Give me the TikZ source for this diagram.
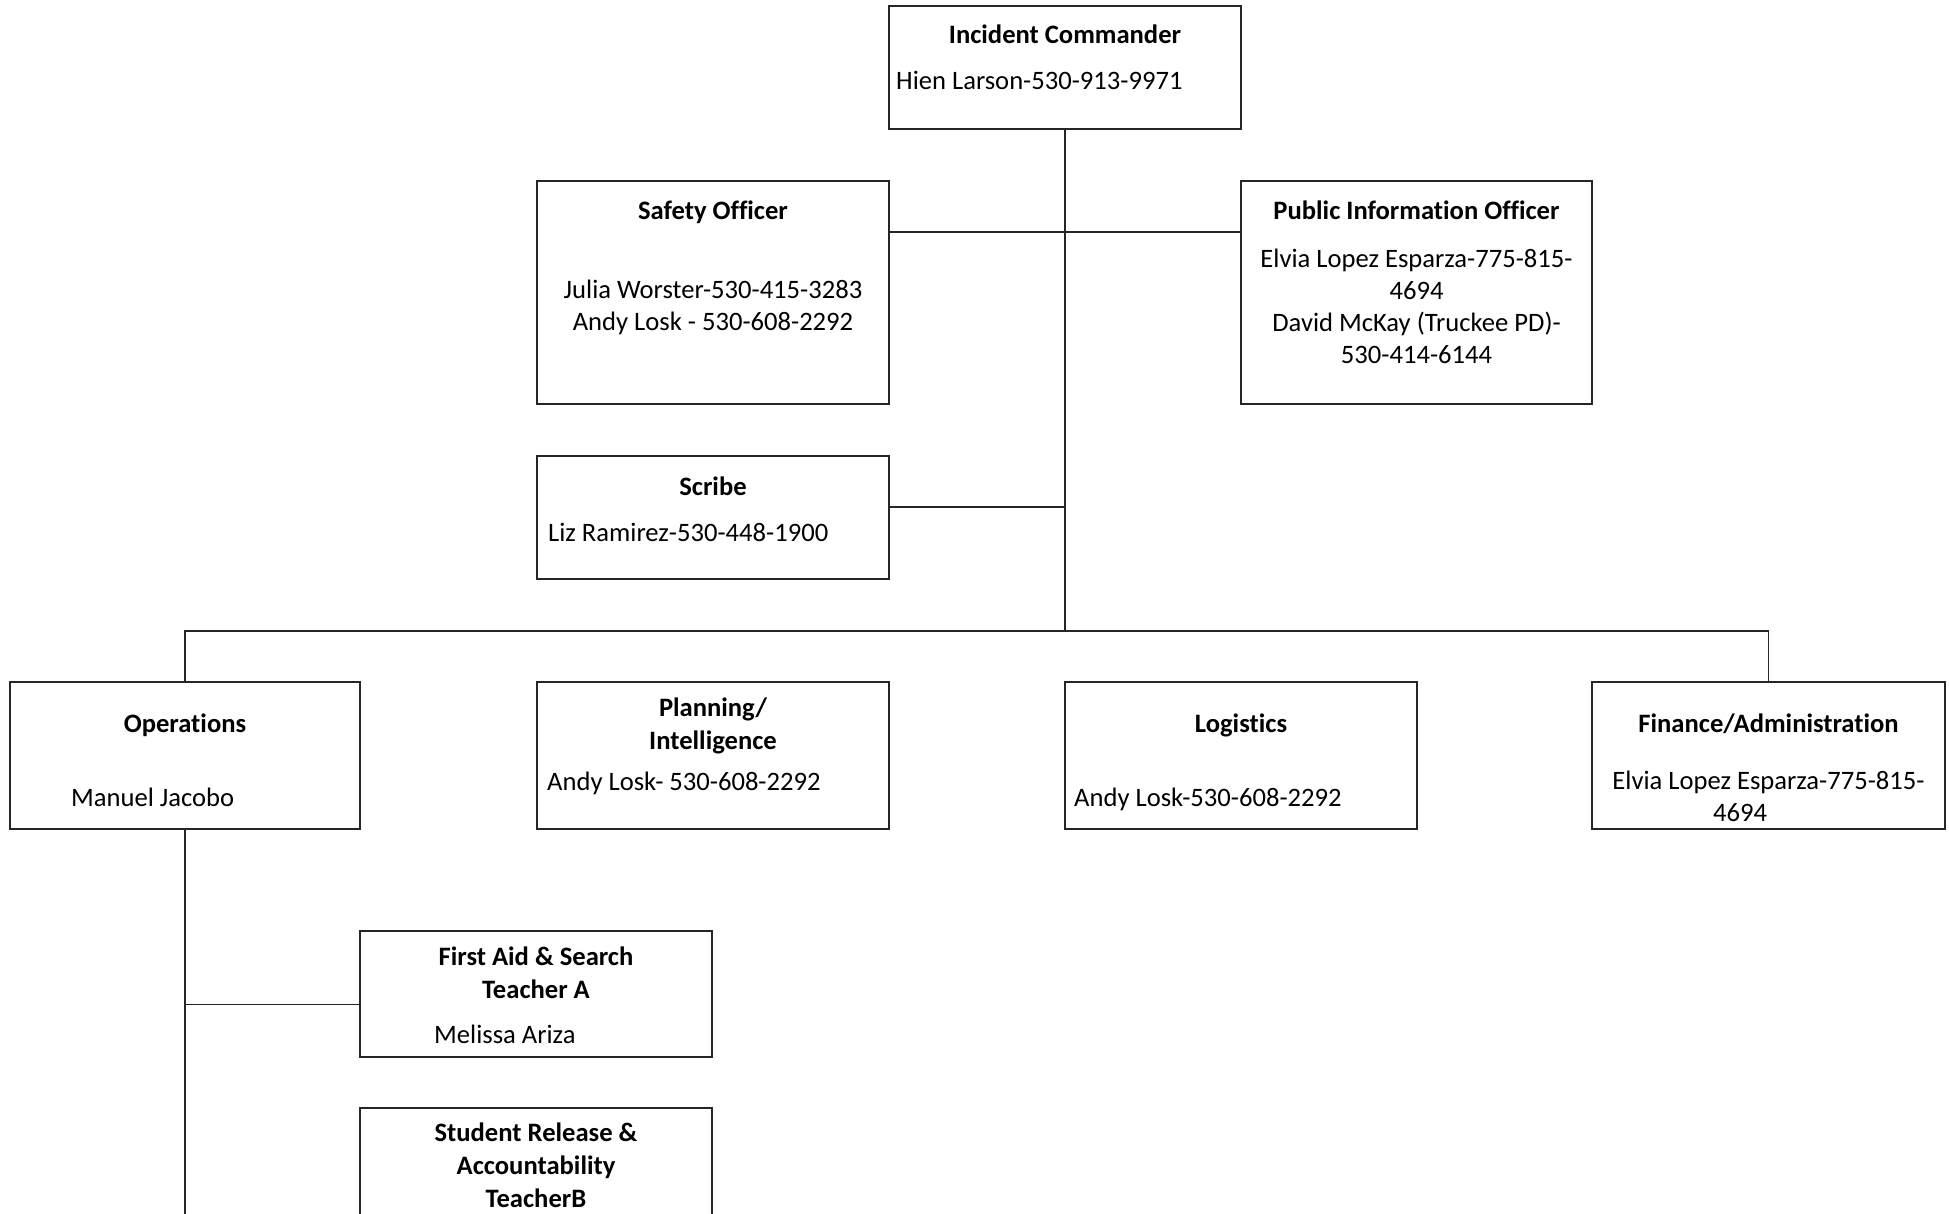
\documentclass[tikz,border=0pt]{standalone}
\usepackage{fontspec}
\setmainfont{Carlito}[Ligatures=NoCommon]
\begin{document}
\begin{tikzpicture}[x=1pt,y=-1pt,
  box/.style={draw=black!85, line width=1.6pt, fill=white, inner sep=0pt, minimum width=352pt},
  conn/.style={draw=black!85, line width=1.7pt},
  txt/.style={inner sep=0pt, anchor=base, font=\fontsize{26.6}{32}\selectfont},
  txtl/.style={txt, anchor=base west},
  ttl/.style={txt, font=\fontsize{26.6}{32}\selectfont\bfseries}]
\clip (0,0) rectangle (1949,1214);
\fill[white] (0,0) rectangle (1949,1214);
% coordinates for connector junctions
\coordinate (sj) at (1065,232);
\coordinate (scj) at (1065,507);
\coordinate (bus) at (1065,631);
\coordinate (aidj) at (185,1004.5);
\coordinate (relj) at (185,1214);
% boxes
\node[box, minimum height=123pt] (ic) at (1065,67.5) {};
\node[box, minimum height=223pt] (safety) at (713,292.5) {};
\node[box, minimum height=223pt, minimum width=351pt] (pio) at (1416.5,292.5) {};
\node[box, minimum height=123pt] (scribe) at (713,517.5) {};
\node[box, minimum height=147pt, minimum width=350pt] (ops) at (185,755.5) {};
\node[box, minimum height=147pt] (plan) at (713,755.5) {};
\node[box, minimum height=147pt] (log) at (1241,755.5) {};
\node[box, minimum height=147pt, minimum width=353pt] (fin) at (1768.5,755.5) {};
\node[box, minimum height=126pt] (aid) at (536,994) {};
\node[box, minimum height=152pt] (rel) at (536,1184) {};
% connectors
\draw[conn] (ic.south) -- (bus);
\draw[conn] (safety.east |- sj) -- (pio.west |- sj);
\draw[conn] (scribe.east |- scj) -- (scj);
\draw[conn] (ops.north) -- (ops.north |- bus) -- (fin.north |- bus) -- (fin.north);
\draw[conn] (ops.south) -- (relj);
\draw[conn] (aidj) -- (aid.west |- aidj);
% texts
\node[ttl] (ict) at (1065,44) {Incident Commander};
\node[txtl] (icn) at (896,90) {Hien Larson-530-913-9971};
\node[ttl] (sat) at (713,220) {Safety Officer};
\node[txt] (sa1) at (713,299) {Julia Worster-530-415-3283};
\node[txt] (sa2) at (713,331) {Andy Losk - 530-608-2292};
\node[ttl] (piot) at (1416.5,220) {Public Information Officer};
\node[txt] (pio1) at (1416.5,268) {Elvia Lopez Esparza-775-815-};
\node[txt] (pio2) at (1416.5,300) {4694};
\node[txt] (pio3) at (1416.5,332) {David McKay (Truckee PD)-};
\node[txt] (pio4) at (1416.5,364) {530-414-6144};
\node[ttl] (sct) at (713,495) {Scribe};
\node[txtl] (scn) at (548,541) {Liz Ramirez-530-448-1900};
\node[ttl] (opt) at (185,732) {Operations};
\node[txtl] (opn) at (71,806) {Manuel Jacobo};
\node[ttl] (plt1) at (713,716) {Planning/};
\node[ttl] (plt2) at (713,749) {Intelligence};
\node[txtl] (pln) at (547,790) {Andy Losk- 530-608-2292};
\node[ttl] (lgt) at (1241,732) {Logistics};
\node[txtl] (lgn) at (1074,806) {Andy Losk-530-608-2292};
\node[ttl] (fit) at (1768.5,732) {Finance/Administration};
\node[txt] (fi1) at (1768.5,789) {Elvia Lopez Esparza-775-815-};
\node[txt] (fi2) at (1740,821) {4694};
\node[ttl] (ait1) at (536,965) {First Aid \& Search};
\node[ttl] (ait2) at (536,998) {Teacher A};
\node[txtl] (ain) at (434,1043) {Melissa Ariza};
\node[ttl] (ret1) at (536,1141) {Student Release \&};
\node[ttl] (ret2) at (536,1174) {Accountability};
\node[ttl] (ret3) at (536,1207) {TeacherB};
\end{tikzpicture}
\end{document}
